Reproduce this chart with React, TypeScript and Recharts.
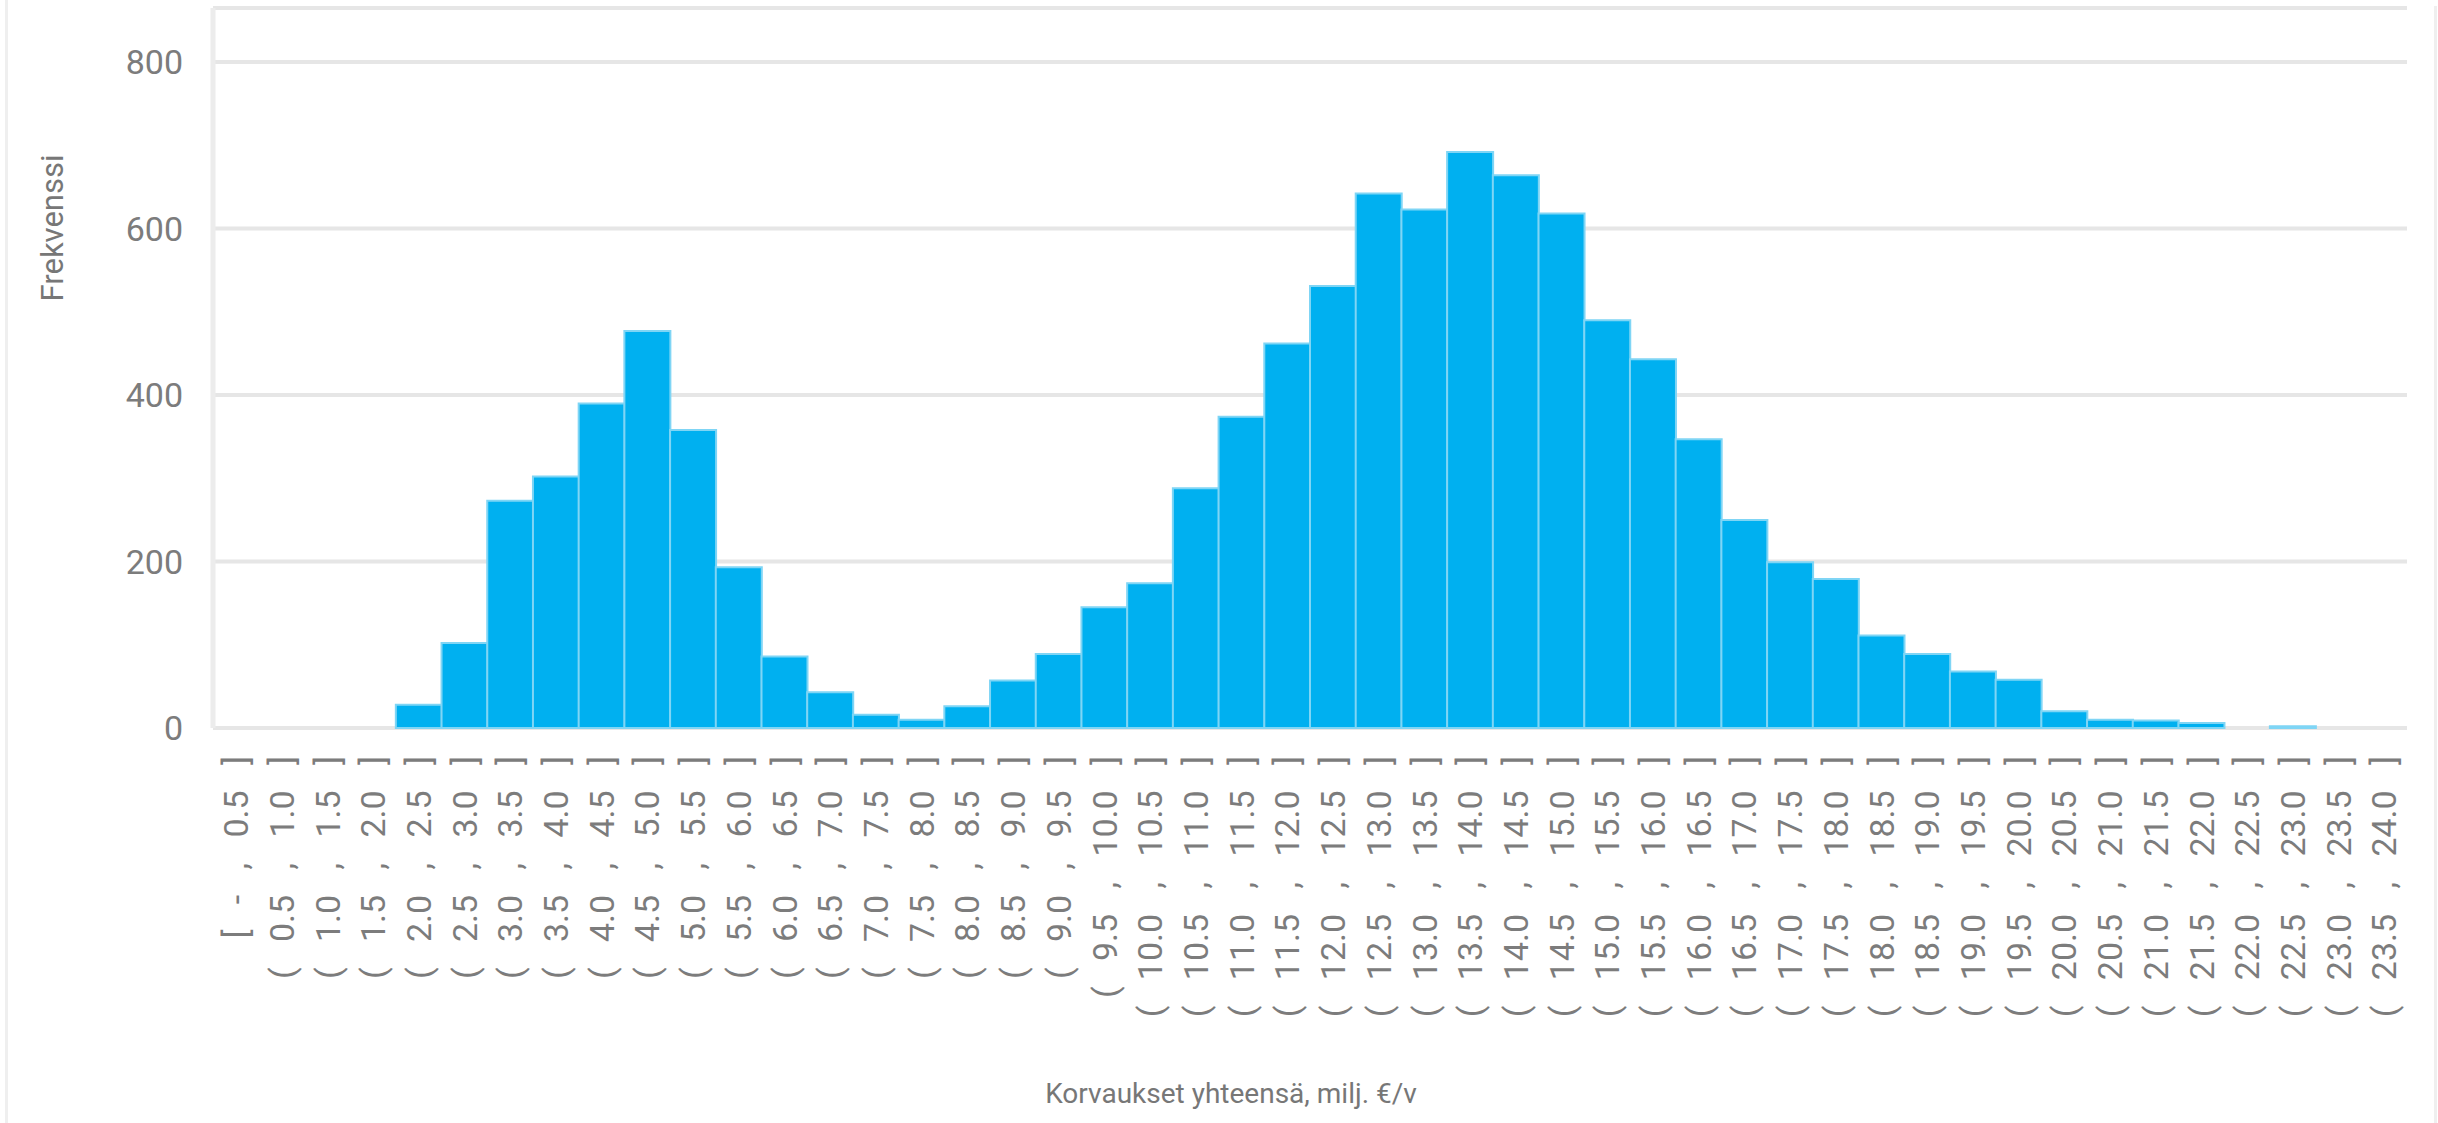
import React from 'react';
import { BarChart, Bar, XAxis, YAxis, CartesianGrid } from 'recharts';

// bin labels (x axis categories)
const bins = [
  '[ - , 0.5 ]', '( 0.5 , 1.0 ]', '( 1.0 , 1.5 ]', '( 1.5 , 2.0 ]', '( 2.0 , 2.5 ]', '( 2.5 , 3.0 ]',
  '( 3.0 , 3.5 ]', '( 3.5 , 4.0 ]', '( 4.0 , 4.5 ]', '( 4.5 , 5.0 ]', '( 5.0 , 5.5 ]', '( 5.5 , 6.0 ]',
  '( 6.0 , 6.5 ]', '( 6.5 , 7.0 ]', '( 7.0 , 7.5 ]', '( 7.5 , 8.0 ]', '( 8.0 , 8.5 ]', '( 8.5 , 9.0 ]',
  '( 9.0 , 9.5 ]', '( 9.5 , 10.0 ]', '( 10.0 , 10.5 ]', '( 10.5 , 11.0 ]', '( 11.0 , 11.5 ]', '( 11.5 , 12.0 ]',
  '( 12.0 , 12.5 ]', '( 12.5 , 13.0 ]', '( 13.0 , 13.5 ]', '( 13.5 , 14.0 ]', '( 14.0 , 14.5 ]', '( 14.5 , 15.0 ]',
  '( 15.0 , 15.5 ]', '( 15.5 , 16.0 ]', '( 16.0 , 16.5 ]', '( 16.5 , 17.0 ]', '( 17.0 , 17.5 ]', '( 17.5 , 18.0 ]',
  '( 18.0 , 18.5 ]', '( 18.5 , 19.0 ]', '( 19.0 , 19.5 ]', '( 19.5 , 20.0 ]', '( 20.0 , 20.5 ]', '( 20.5 , 21.0 ]',
  '( 21.0 , 21.5 ]', '( 21.5 , 22.0 ]', '( 22.0 , 22.5 ]', '( 22.5 , 23.0 ]', '( 23.0 , 23.5 ]', '( 23.5 , 24.0 ]',
];

// frequency per bin
const frequency = [
  0, 0, 0, 0, 28, 102, 273, 302, 390, 477, 358, 193,
  86, 43, 16, 10, 26, 57, 89, 145, 174, 288, 374, 462,
  531, 642, 623, 692, 664, 618, 490, 443, 347, 250, 199, 179,
  111, 89, 68, 58, 20, 10, 9, 6, 0, 2, 0, 0,
];

const yTicks = [0, 200, 400, 600, 800];

const data = bins.map((bin, i) => ({ bin, freq: frequency[i] }));

const FONT = 'Roboto, "Noto Sans", sans-serif';
const GAP = '\u00A0\u00A0\u00A0';

const BinTick = (props: any) => {
  const { x, y, payload } = props;
  const label = String(payload.value).split(' ').join(GAP);
  return (
    <g transform={`translate(${x},${y + 20})`}>
      <text
        transform="rotate(-90)"
        textAnchor="end"
        dy="0.36em"
        fill="#7c7c7c"
        fontSize={34}
        fontFamily={FONT}
      >
        {label}
      </text>
    </g>
  );
};

const YTitle = (props: any) => {
  const { viewBox } = props;
  const cx = viewBox.x + 52;
  const cy = viewBox.y + 220;
  return (
    <text
      x={cx}
      y={cy}
      transform={`rotate(-90 ${cx} ${cy})`}
      textAnchor="middle"
      dominantBaseline="central"
      fill="#777"
      fontSize={31}
      fontFamily={FONT}
    >
      Frekvenssi
    </text>
  );
};

const XTitle = (props: any) => {
  const { viewBox } = props;
  return (
    <text
      x={viewBox.x + viewBox.width / 2 - 79}
      y={viewBox.y + 375}
      textAnchor="middle"
      fill="#777"
      fontSize={28}
      fontFamily={FONT}
    >
      Korvaukset yhteensä, milj. €/v
    </text>
  );
};

const App = () => {
  return (
    <div style={{ position: 'absolute', left: 0, top: 0, width: 2438, height: 1123, background: '#fff' }}>
      <div style={{ position: 'absolute', left: 5, top: 0, width: 3, height: 1123, background: '#efefef' }} />
      <div style={{ position: 'absolute', left: 2434, top: 6, width: 3, height: 1117, background: '#efefef' }} />
      <BarChart
        width={2438}
        height={1123}
        data={data}
        barCategoryGap={0}
        margin={{ top: 8, right: 31, bottom: 0, left: 0 }}
      >
        <CartesianGrid horizontal vertical={false} stroke="#e6e6e6" strokeWidth={4} />
        <XAxis
          dataKey="bin"
          interval={0}
          height={395}
          axisLine={false}
          tickLine={false}
          tick={<BinTick />}
          label={<XTitle />}
        />
        <YAxis
          width={213}
          domain={[0, 865]}
          ticks={yTicks}
          axisLine={{ stroke: '#ececec', strokeWidth: 5 }}
          tickLine={false}
          tickMargin={24}
          tick={{ fill: '#7c7c7c', fontSize: 34, fontFamily: FONT }}
          label={<YTitle />}
        />
        <Bar
          dataKey="freq"
          fill="#00b0f0"
          stroke="#7fd5f5"
          strokeWidth={2}
          isAnimationActive={false}
        />
      </BarChart>
    </div>
  );
};

export default App;
